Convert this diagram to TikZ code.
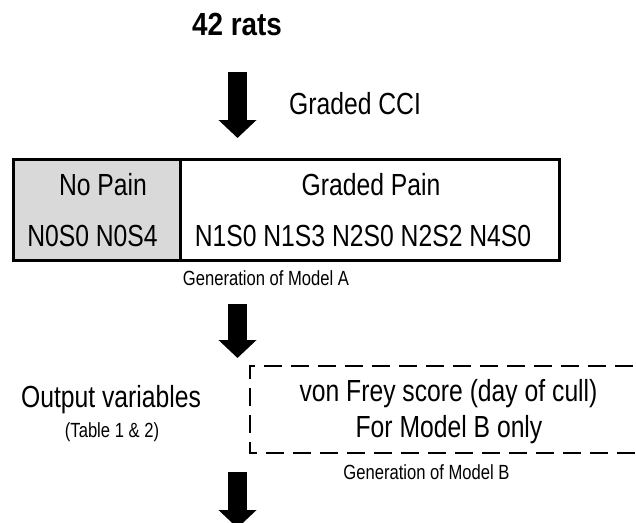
\documentclass[tikz,border=0pt]{standalone}
\usepackage{fontspec}
\setmainfont{Liberation Sans}[FakeStretch=0.81]
\newfontfamily\titlefont{Liberation Sans}[FakeStretch=0.87]
\usetikzlibrary{arrows.meta}
\definecolor{cellgray}{HTML}{D9D9D9}

\begin{document}
\begin{tikzpicture}[x=1pt,y=-1pt,
  big/.style={font=\fontsize{30.5}{35}\selectfont, inner sep=0pt, anchor=base},
  small/.style={font=\fontsize{20.5}{24}\selectfont, inner sep=0pt, anchor=base},
  title/.style={font=\titlefont\bfseries\fontsize{32}{36}\selectfont, inner sep=0pt, anchor=base},
  cell/.style={draw=black, line width=2.8pt, inner sep=0pt, anchor=north west},
  fatarrow/.style={line width=19pt, -{Triangle[width=37pt,length=18pt]}},
  dashbox/.style={draw=black, line width=2.2pt, dash pattern=on 18pt off 9pt}
]
\useasboundingbox (0,0) rectangle (636,522);
\clip (0,0) rectangle (636,522);

% heading
\node[title] (rats) at (237,35) {42 rats};

% first arrow with its label
\coordinate (a1s) at (237.5,72);
\coordinate (a1e) at (237.5,138);
\draw[fatarrow] (a1s) -- (a1e);
\node[big] (cci) at (355,114) {Graded CCI};

% group table
\node[cell, fill=cellgray, minimum width=167pt, minimum height=101pt] (nopainbox) at (12,158) {};
\node[cell, minimum width=379pt, minimum height=101pt] (painbox) at (179,158) {};
\node[big] (nopain) at (103,195) {No Pain};
\node[big] (nopaingroups) at (92.5,246) {N0S0 N0S4};
\node[big] (pain) at (371,195) {Graded Pain};
\node[big] (paingroups) at (363,246) {N1S0 N1S3 N2S0 N2S2 N4S0};
\node[small] (modelA) at (266,285) {Generation of Model A};

% second arrow
\coordinate (a2s) at (237.5,304);
\coordinate (a2e) at (237.5,358);
\draw[fatarrow] (a2s) -- (a2e);

% outputs
\node[big] (outvars) at (111,407) {Output variables};
\node[small] (tables) at (112,437) {(Table 1 \& 2)};

% dashed box, open past the right edge
\coordinate (dbtr) at (660,366);
\coordinate (dbtl) at (250,366);
\coordinate (dbbl) at (250,453);
\coordinate (dbbr) at (660,453);
\draw[dashbox] (dbtr) -- (dbtl) -- (dbbl) -- (dbbr);
\node[big] (vonfrey) at (448.5,401) {von Frey score (day of cull)};
\node[big] (modelBonly) at (449,437) {For Model B only};
\node[small] (modelB) at (426.5,479) {Generation of Model B};

% third arrow, running off the bottom
\coordinate (a3s) at (237.5,472);
\coordinate (a3e) at (237.5,528);
\draw[fatarrow] (a3s) -- (a3e);
\end{tikzpicture}
\end{document}
